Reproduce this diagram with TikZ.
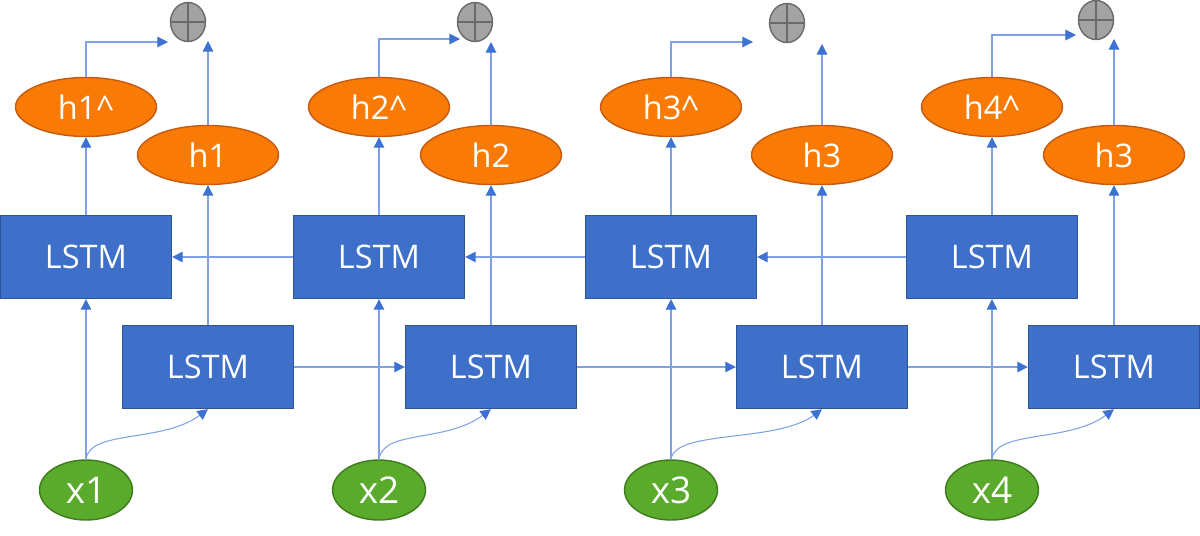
\documentclass[tikz,border=0pt]{standalone}
\usepackage{fontspec}
\setmainfont{Open Sans}
\usetikzlibrary{shapes.geometric,arrows.meta}
\definecolor{boxblue}{HTML}{3F70C9}
\definecolor{boxline}{HTML}{2F5597}
\definecolor{hfill}{HTML}{F97B06}
\definecolor{hline}{HTML}{C55A11}
\definecolor{xfill}{HTML}{5AAA2B}
\definecolor{xline}{HTML}{3E7A1E}
\definecolor{plusfill}{HTML}{A3A3A3}
\definecolor{plusline}{HTML}{6A6A6A}
\definecolor{wire}{HTML}{7FA2E4}
\definecolor{tipblue}{HTML}{3D72D2}

\begin{document}
\begin{tikzpicture}[x=0.02cm,y=-0.02cm,
  lstm/.style={shape=rectangle,draw=boxline,fill=boxblue,line width=0.8pt,minimum width=3.42cm,minimum height=1.66cm,inner sep=0pt,text=white,font=\fontsize{18.5}{20}\selectfont},
  hid/.style={shape=ellipse,draw=hline,fill=hfill,line width=0.8pt,minimum width=2.82cm,minimum height=1.18cm,inner sep=0pt,text=white,font=\fontsize{18.5}{20}\selectfont},
  inp/.style={shape=ellipse,draw=xline,fill=xfill,line width=0.8pt,minimum width=1.86cm,minimum height=1.2cm,inner sep=0pt,text=white,font=\fontsize{21}{23}\selectfont},
  plus/.style={shape=ellipse,draw=plusline,fill=plusfill,line width=0.8pt,minimum width=0.7cm,minimum height=0.78cm,inner sep=0pt},
  arr/.style={draw=wire,line width=0.6pt,-{Triangle[length=6pt,width=6pt,color=tipblue]}}]
\def\yp{22};
\def\yhh{107};
\def\yh{155};
\def\yup{257};
\def\ylo{367};
\def\yx{490};

\useasboundingbox (0,0) rectangle (1200,535);

\node[lstm] (U1) at (86,\yup) {LSTM};
\node[lstm] (U2) at (379,\yup) {LSTM};
\node[lstm] (U3) at (671,\yup) {LSTM};
\node[lstm] (U4) at (992,\yup) {LSTM};

\node[lstm] (L1) at (208,\ylo) {LSTM};
\node[lstm] (L2) at (491,\ylo) {LSTM};
\node[lstm] (L3) at (822,\ylo) {LSTM};
\node[lstm] (L4) at (1114,\ylo) {LSTM};

\node[hid] (HH1) at (86,\yhh) {h1\textasciicircum};
\node[hid] (HH2) at (379,\yhh) {h2\textasciicircum};
\node[hid] (HH3) at (671,\yhh) {h3\textasciicircum};
\node[hid] (HH4) at (992,\yhh) {h4\textasciicircum};

\node[hid] (H1) at (208,\yh) {h1};
\node[hid] (H2) at (491,\yh) {h2};
\node[hid] (H3) at (822,\yh) {h3};
\node[hid] (H4) at (1114,\yh) {h3};

\node[inp] (X1) at (86,\yx) {x1};
\node[inp] (X2) at (379,\yx) {x2};
\node[inp] (X3) at (671,\yx) {x3};
\node[inp] (X4) at (992,\yx) {x4};

\node[plus] (P1) at (188,\yp) {};
\node[plus] (P2) at (475,\yp) {};
\node[plus] (P3) at (787,23) {};
\node[plus] (P4) at (1096,20) {};
\foreach \p in {P1,P2,P3,P4}
  \draw[plusline,line width=0.8pt] (\p.north) -- (\p.south) (\p.west) -- (\p.east);

\coordinate (A1) at (168,42);
\coordinate (A2) at (460,39);
\coordinate (A3) at (753,42);
\coordinate (A4) at (1076,35);
\coordinate (B1) at (208,41);
\coordinate (B2) at (491,42);
\coordinate (B3) at (822,44);
\coordinate (B4) at (1114,39);

\draw[arr] (HH1.north) |- (A1);
\draw[arr] (HH2.north) |- (A2);
\draw[arr] (HH3.north) |- (A3);
\draw[arr] (HH4.north) |- (A4);
\draw[arr] (H1.north) -- (B1);
\draw[arr] (H2.north) -- (B2);
\draw[arr] (H3.north) -- (B3);
\draw[arr] (H4.north) -- (B4);

\draw[arr] (U1.north) -- (HH1.south);
\draw[arr] (U2.north) -- (HH2.south);
\draw[arr] (U3.north) -- (HH3.south);
\draw[arr] (U4.north) -- (HH4.south);
\draw[arr] (L1.north) -- (H1.south);
\draw[arr] (L2.north) -- (H2.south);
\draw[arr] (L3.north) -- (H3.south);
\draw[arr] (L4.north) -- (H4.south);

\draw[arr] (U2.west) -- (U1.east);
\draw[arr] (U3.west) -- (U2.east);
\draw[arr] (U4.west) -- (U3.east);
\draw[arr] (L1.east) -- (L2.west);
\draw[arr] (L2.east) -- (L3.west);
\draw[arr] (L3.east) -- (L4.west);

\draw[arr] (X1.north) -- (U1.south);
\draw[arr] (X2.north) -- (U2.south);
\draw[arr] (X3.north) -- (U3.south);
\draw[arr] (X4.north) -- (U4.south);
\draw[arr] (X1.north) .. controls +(4,-30) and +(-46,34) .. (L1.south);
\draw[arr] (X2.north) .. controls +(4,-30) and +(-46,34) .. (L2.south);
\draw[arr] (X3.north) .. controls +(4,-30) and +(-46,34) .. (L3.south);
\draw[arr] (X4.north) .. controls +(4,-30) and +(-46,34) .. (L4.south);
\end{tikzpicture}
\end{document}
